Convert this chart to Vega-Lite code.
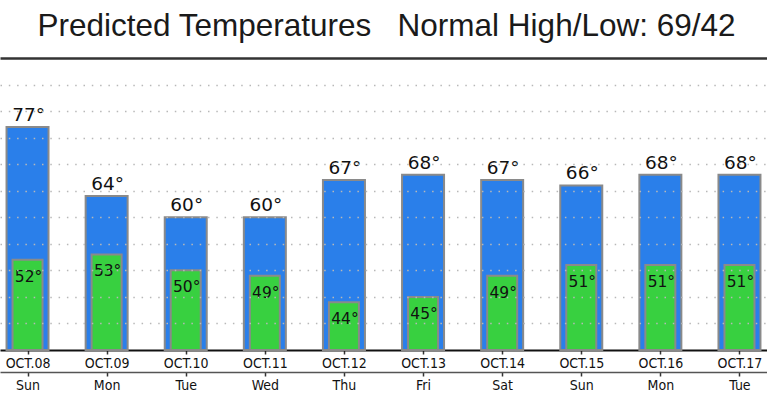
{
  "$schema": "https://vega.github.io/schema/vega-lite/v6.json",
  "width": 767,
  "height": 292,
  "autosize": "none",
  "padding": {"top": 58, "left": 0, "right": 0, "bottom": 44},
  "background": "white",
  "config": {"view": {"stroke": null}},
  "title": {
    "text": "Predicted Temperatures\u00a0\u00a0\u00a0Normal High/Low: 69/42",
    "font": "Liberation Sans",
    "fontSize": 31.5,
    "fontWeight": "normal",
    "color": "#1a1a1a",
    "anchor": "middle",
    "dx": 3,
    "offset": 16
  },
  "data": {
    "values": [
      {"date": "2023-10-08T12:00:00", "high": 77, "low": 52},
      {"date": "2023-10-09T12:00:00", "high": 64, "low": 53},
      {"date": "2023-10-10T12:00:00", "high": 60, "low": 50},
      {"date": "2023-10-11T12:00:00", "high": 60, "low": 49},
      {"date": "2023-10-12T12:00:00", "high": 67, "low": 44},
      {"date": "2023-10-13T12:00:00", "high": 68, "low": 45},
      {"date": "2023-10-14T12:00:00", "high": 67, "low": 49},
      {"date": "2023-10-15T12:00:00", "high": 66, "low": 51},
      {"date": "2023-10-16T12:00:00", "high": 68, "low": 51},
      {"date": "2023-10-17T12:00:00", "high": 68, "low": 51}
    ]
  },
  "layer": [
    {
      "mark": {"type": "bar", "width": 42, "color": "#2a7fea", "stroke": "#8a8a8a", "strokeWidth": 2},
      "encoding": {
        "x": {
          "field": "date", "type": "ordinal", "timeUnit": "yearmonthdate",
          "scale": {"type": "point", "padding": 0.348},
          "axis": {
            "orient": "bottom", "title": null, "grid": false,
            "labelExpr": "upper(timeFormat(datum.value, '%b.%d'))",
            "labelFont": "DejaVu Sans Condensed", "labelFontSize": 14, "labelColor": "#111111",
            "labelPadding": 2, "labelAngle": 0,
            "domainColor": "#111111", "domainWidth": 2,
            "tickColor": "#333333", "tickSize": 4, "tickWidth": 1.5
          }
        },
        "y": {
          "field": "high", "type": "quantitative",
          "scale": {"domain": [35, 90], "zero": false, "nice": false},
          "axis": {
            "title": null, "labels": false, "ticks": false, "domain": false,
            "values": [40, 45, 50, 55, 60, 65, 70, 75, 80, 85, 90],
            "zindex": 1,
            "gridColor": {"condition": {"test": "datum.value === 90", "value": "#333333"}, "value": "#b8b8b8"},
            "gridDash": {"condition": {"test": "datum.value === 90", "value": []}, "value": [1.5, 6.8]},
            "gridWidth": {"condition": {"test": "datum.value === 90", "value": 2.5}, "value": 1.5}
          }
        },
        "y2": {"datum": 35}
      }
    },
    {
      "mark": {"type": "bar", "width": 30, "color": "#38d040", "stroke": "#8a8a8a", "strokeWidth": 2},
      "encoding": {
        "x": {
          "field": "date", "type": "ordinal", "timeUnit": "yearmonthdate",
          "axis": {
            "orient": "bottom", "offset": 22, "title": null, "grid": false,
            "labelExpr": "timeFormat(datum.value, '%a')",
            "labelFont": "DejaVu Sans Condensed", "labelFontSize": 14, "labelColor": "#111111",
            "labelPadding": 2, "labelAngle": 0,
            "domainColor": "#555555", "domainWidth": 1.5,
            "tickColor": "#333333", "tickSize": 4, "tickWidth": 1.5
          }
        },
        "y": {
          "field": "low", "type": "quantitative",
          "axis": {
            "title": null, "labels": false, "ticks": false, "domain": false,
            "values": [40, 45, 50, 55, 60, 65, 70, 75, 80, 85, 90],
            "zindex": 1,
            "gridColor": {"condition": {"test": "datum.value === 90", "value": "#333333"}, "value": "#b8b8b8"},
            "gridDash": {"condition": {"test": "datum.value === 90", "value": []}, "value": [1.5, 6.8]},
            "gridWidth": {"condition": {"test": "datum.value === 90", "value": 2.5}, "value": 1.5}
          }
        },
        "y2": {"datum": 35}
      }
    },
    {
      "mark": {"type": "text", "dy": -6, "dx": 1, "baseline": "alphabetic", "font": "DejaVu Sans", "fontSize": 18.5, "color": "#111111", "text": {"expr": "datum.high + '°'"}},
      "encoding": {
        "x": {"field": "date", "type": "ordinal", "timeUnit": "yearmonthdate", "axis": null},
        "y": {
          "field": "high", "type": "quantitative",
          "axis": {
            "title": null, "labels": false, "ticks": false, "domain": false,
            "values": [40, 45, 50, 55, 60, 65, 70, 75, 80, 85, 90],
            "zindex": 1,
            "gridColor": {"condition": {"test": "datum.value === 90", "value": "#333333"}, "value": "#b8b8b8"},
            "gridDash": {"condition": {"test": "datum.value === 90", "value": []}, "value": [1.5, 6.8]},
            "gridWidth": {"condition": {"test": "datum.value === 90", "value": 2.5}, "value": 1.5}
          }
        }
      }
    },
    {
      "mark": {"type": "text", "dy": 22, "dx": 1, "baseline": "alphabetic", "font": "DejaVu Sans", "fontSize": 15.5, "color": "#111111", "text": {"expr": "datum.low + '°'"}},
      "encoding": {
        "x": {"field": "date", "type": "ordinal", "timeUnit": "yearmonthdate", "axis": null},
        "y": {
          "field": "low", "type": "quantitative",
          "axis": {
            "title": null, "labels": false, "ticks": false, "domain": false,
            "values": [40, 45, 50, 55, 60, 65, 70, 75, 80, 85, 90],
            "zindex": 1,
            "gridColor": {"condition": {"test": "datum.value === 90", "value": "#333333"}, "value": "#b8b8b8"},
            "gridDash": {"condition": {"test": "datum.value === 90", "value": []}, "value": [1.5, 6.8]},
            "gridWidth": {"condition": {"test": "datum.value === 90", "value": 2.5}, "value": 1.5}
          }
        }
      }
    }
  ],
  "resolve": {"axis": {"x": "independent"}}
}
